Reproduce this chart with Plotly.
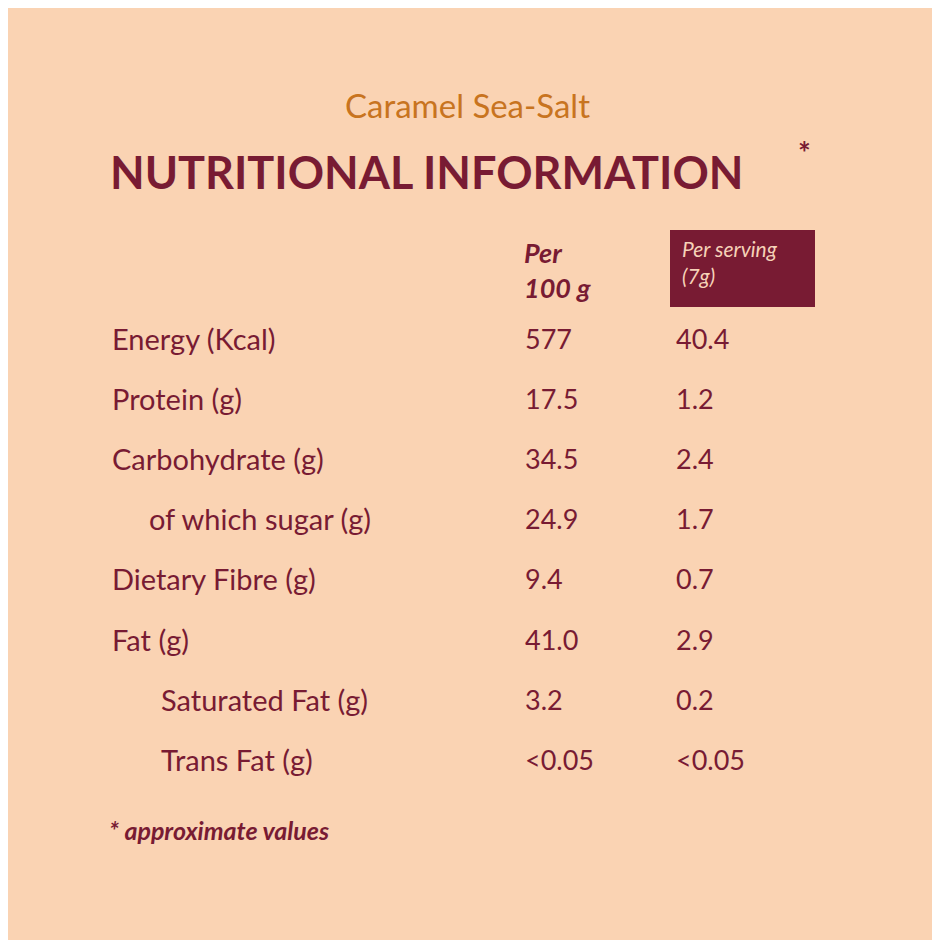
import plotly.graph_objects as go

labels = ["Energy (Kcal)", "Protein (g)", "Carbohydrate (g)", "of which sugar (g)",
          "Dietary Fibre (g)", "Fat (g)", "Saturated Fat (g)", "Trans Fat (g)"]
indent = [0, 0, 0, 1, 0, 0, 2, 2]
per100 = ["577", "17.5", "34.5", "24.9", "9.4", "41.0", "3.2", "<0.05"]
perserv = ["40.4", "1.2", "2.4", "1.7", "0.7", "2.9", "0.2", "<0.05"]

BG = "#FAD3B3"
MAROON = "#781B33"
ORANGE = "#C8741F"
FONT = "Lato"

fig = go.Figure()
ann = []
def t(x, y, s, size, color=MAROON, xa="left", bold=False, italic=False):
    if bold: s = "<b>" + s + "</b>"
    if italic: s = "<i>" + s + "</i>"
    ann.append(dict(x=x, y=y, xref="x", yref="y", text=s, showarrow=False, xanchor=xa,
                    yanchor="middle", align="left",
                    font=dict(family=FONT, size=size, color=color)))

t(467, 105, "Caramel Sea-Salt", 33, ORANGE, xa="center")
t(108, 172, "NUTRITIONAL INFORMATION", 45, bold=True)
t(796, 152, "*", 30, bold=True)
t(522, 270, "Per<br>100 g", 27, bold=True, italic=True)
t(680, 262, "Per serving<br>(7g)", 21, "#F6D2B8", italic=True)

for i, (lab, ind, a, b) in enumerate(zip(labels, indent, per100, perserv)):
    y = 338 + i * 60.2
    t(110 + [0, 37, 49][ind], y, lab, 29)
    t(523, y, a, 27)
    t(674, y, b, 27)

t(107, 830, "* approximate values", 25, bold=True, italic=True)

fig.add_shape(type="rect", x0=670, x1=815, y0=230, y1=307, xref="x", yref="y",
              fillcolor=MAROON, line_width=0, layer="below")

fig.update_layout(width=940, height=940, margin=dict(l=0, r=0, t=0, b=0),
                  paper_bgcolor=BG, plot_bgcolor=BG, annotations=ann, showlegend=False,
                  xaxis=dict(range=[8, 948], visible=False, fixedrange=True),
                  yaxis=dict(range=[948, 8], visible=False, fixedrange=True))
fig.write_html("out.html")
